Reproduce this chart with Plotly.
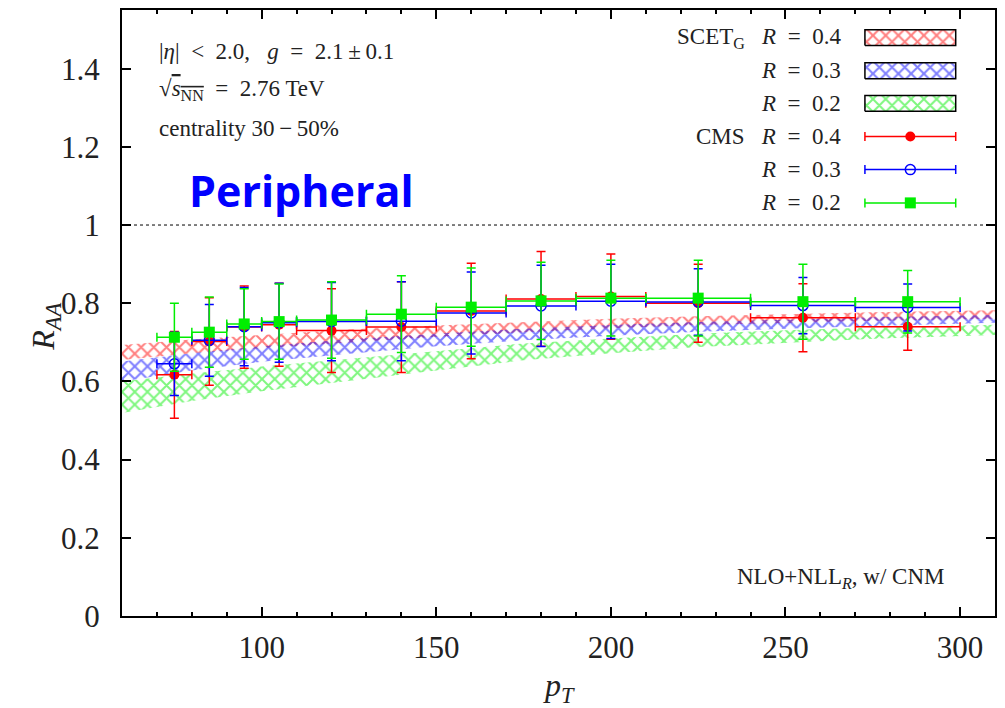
import plotly.graph_objects as go

# ---------------- data ----------------
# CMS jet R_AA, 30-50% centrality
pt = [75, 85, 95, 105, 120, 140, 160, 180, 200, 225, 255, 285]
pt_halfbin = [5, 5, 5, 5, 10, 10, 10, 10, 10, 15, 15, 15]

cms_r04 = [0.617, 0.702, 0.739, 0.745, 0.730, 0.739, 0.780, 0.811, 0.817, 0.800, 0.763, 0.740]
cms_r04_err = [0.111, 0.112, 0.105, 0.106, 0.107, 0.116, 0.122, 0.121, 0.109, 0.100, 0.087, 0.060]
cms_r03 = [0.645, 0.705, 0.740, 0.750, 0.753, 0.754, 0.775, 0.793, 0.805, 0.803, 0.794, 0.789]
cms_r03_err = [0.081, 0.092, 0.100, 0.101, 0.100, 0.101, 0.105, 0.104, 0.095, 0.085, 0.072, 0.060]
cms_r02 = [0.713, 0.726, 0.747, 0.753, 0.757, 0.772, 0.790, 0.806, 0.813, 0.813, 0.804, 0.804]
cms_r02_err = [0.087, 0.090, 0.090, 0.096, 0.098, 0.098, 0.100, 0.099, 0.097, 0.097, 0.096, 0.080]

# SCET_G theory bands
band_pt = [60, 80, 100, 125, 150, 175, 200, 225, 250, 275, 310]
scet_r04_lo = [0.655, 0.672, 0.685, 0.700, 0.714, 0.726, 0.736, 0.744, 0.750, 0.755, 0.760]
scet_r04_hi = [0.693, 0.707, 0.719, 0.733, 0.743, 0.752, 0.760, 0.767, 0.772, 0.777, 0.782]
scet_r03_lo = [0.600, 0.628, 0.650, 0.671, 0.690, 0.705, 0.717, 0.727, 0.735, 0.742, 0.750]
scet_r03_hi = [0.651, 0.672, 0.690, 0.708, 0.722, 0.735, 0.744, 0.752, 0.758, 0.764, 0.770]
scet_r02_lo = [0.519, 0.550, 0.575, 0.601, 0.628, 0.654, 0.672, 0.688, 0.699, 0.709, 0.719]
scet_r02_hi = [0.600, 0.620, 0.638, 0.658, 0.678, 0.697, 0.710, 0.722, 0.731, 0.738, 0.745]

radii = ["0.4", "0.3", "0.2"]
x_ticks = [100, 150, 200, 250, 300]
y_ticks = [0, 0.2, 0.4, 0.6, 0.8, 1.0, 1.2, 1.4]

# ---------------- styles ----------------
RED, BLUE, GREEN = "#ff0000", "#0000ff", "#00ee00"
SERIF = "Liberation Serif"
TXT = "#222222"
colors = [RED, BLUE, GREEN]
bands = [(scet_r04_lo, scet_r04_hi), (scet_r03_lo, scet_r03_hi), (scet_r02_lo, scet_r02_hi)]
cms = [(cms_r04, cms_r04_err), (cms_r03, cms_r03_err), (cms_r02, cms_r02_err)]
markers = [dict(symbol="circle", size=10),
           dict(symbol="circle-open", size=10, line=dict(width=1.5)),
           dict(symbol="square", size=11)]

def pattern(c):
    return dict(shape="x", fgcolor=c, bgcolor="rgba(255,255,255,0)", size=9, solidity=0.4)

fig = go.Figure()

for (lo, hi), c in zip(bands, colors):
    fig.add_trace(go.Scatter(
        x=band_pt + band_pt[::-1], y=hi + lo[::-1], fill="toself", mode="lines",
        line=dict(width=0, color=c), fillcolor="rgba(255,255,255,0)",
        fillpattern=pattern(c), hoverinfo="skip", showlegend=False))

for (vals, errs), c, m in zip(cms, colors, markers):
    fig.add_trace(go.Scatter(
        x=pt, y=vals, mode="markers", marker=dict(color=c, **m),
        error_y=dict(type="data", array=errs, color=c, thickness=1.5, width=4.5),
        error_x=dict(type="data", array=pt_halfbin, color=c, thickness=1.5, width=4.5),
        showlegend=False))

# ---------------- custom legend on an overlay axis (0..1 = plot area) ----------------
leg_x0, leg_x1 = 0.851, 0.955
leg_rows = [0.9545, 0.8998, 0.846, 0.7913, 0.7366, 0.6817]
leg_h = 0.0131
leg_text_x = 0.826
for i, c in enumerate(colors):
    yc = leg_rows[i]
    fig.add_trace(go.Scatter(
        x=[leg_x0, leg_x1, leg_x1, leg_x0, leg_x0],
        y=[yc - leg_h, yc - leg_h, yc + leg_h, yc + leg_h, yc - leg_h],
        xaxis="x2", yaxis="y2", mode="lines", fill="toself",
        line=dict(color="black", width=1.5), fillcolor="rgba(255,255,255,0)",
        fillpattern=pattern(c), hoverinfo="skip", showlegend=False))
for i, (c, m) in enumerate(zip(colors, markers)):
    yc = leg_rows[3 + i]
    fig.add_trace(go.Scatter(
        x=[(leg_x0 + leg_x1) / 2], y=[yc], xaxis="x2", yaxis="y2", mode="markers",
        marker=dict(color=c, **m),
        error_x=dict(type="constant", value=(leg_x1 - leg_x0) / 2, color=c, thickness=1.5, width=4.5),
        hoverinfo="skip", showlegend=False))

ann = []
EQ = "\u2002=\u2002"
leg_labels = ["SCET<sub>G</sub>\u2002 <i>R</i>" + EQ + radii[0],
              "<i>R</i>" + EQ + radii[1],
              "<i>R</i>" + EQ + radii[2],
              "CMS\u2002 <i>R</i>" + EQ + radii[0],
              "<i>R</i>" + EQ + radii[1],
              "<i>R</i>" + EQ + radii[2]]
for t, yc in zip(leg_labels, leg_rows):
    ann.append(dict(x=leg_text_x, y=yc, xref="paper", yref="paper", text=t, showarrow=False,
                    xanchor="right", yanchor="middle", font=dict(family=SERIF, size=23, color=TXT)))

info = [("|<i>η</i>|\u2002&lt;\u20022.0,\u2002 <i>g</i>" + EQ + "2.1\u2009±\u20090.1", 0.931),
        ("√<span style='text-decoration:overline'><i>s</i><sub>NN</sub></span>" + EQ + "2.76 TeV", 0.8685),
        ("centrality 30\u2009−\u200950%", 0.805)]
for t, yc in info:
    ann.append(dict(x=0.040, y=yc, xref="paper", yref="paper", text=t, showarrow=False,
                    xanchor="left", yanchor="middle", font=dict(family=SERIF, size=23, color=TXT)))

ann.append(dict(x=0.206, y=0.7025, xref="paper", yref="paper", text="<b>Peripheral</b>",
                showarrow=False, xanchor="center", yanchor="middle",
                font=dict(family="Open Sans", size=43, color="#0000ff")))
ann.append(dict(x=0.944, y=0.063, xref="paper", yref="paper",
                text="NLO+NLL<sub><i>R</i></sub>, w/ CNM", showarrow=False,
                xanchor="right", yanchor="middle", font=dict(family=SERIF, size=23, color=TXT)))
ann.append(dict(x=-0.0877, y=0.478, xref="paper", yref="paper",
                text="<i>R</i><sub><i>AA</i></sub>", textangle=-90, showarrow=False,
                xanchor="center", yanchor="middle", font=dict(family=SERIF, size=32, color=TXT)))
ann.append(dict(x=0.501, y=-0.1175, xref="paper", yref="paper",
                text="<i>p</i><sub><i>T</i></sub>", showarrow=False,
                xanchor="center", yanchor="middle", font=dict(family=SERIF, size=32, color=TXT)))

fig.add_shape(type="line", xref="x domain", x0=0, x1=1, yref="y", y0=1, y1=1,
              line=dict(color="black", width=1, dash="dot"), layer="below")

axis_common = dict(showline=True, linecolor="black", linewidth=2, mirror="allticks",
                   ticks="inside", ticklen=9, tickwidth=1.5, tickcolor="black",
                   showgrid=False, zeroline=False,
                   tickfont=dict(family=SERIF, size=31, color=TXT))

fig.update_layout(
    width=1005, height=708,
    margin=dict(l=122, r=8, t=8, b=92),
    paper_bgcolor="white", plot_bgcolor="rgba(0,0,0,0)",
    showlegend=False,
    xaxis=dict(range=[60, 310], tickvals=x_ticks, ticklabelstandoff=3,
               minor=dict(dtick=10, tick0=0, ticks="inside", ticklen=4, tickwidth=1.5, tickcolor="black"),
               **axis_common),
    yaxis=dict(range=[0, 1.55], tickvals=y_ticks, ticktext=[f"{v:g}" for v in y_ticks],
               ticklabelstandoff=14, **axis_common),
    xaxis2=dict(overlaying="x", range=[0, 1], visible=False),
    yaxis2=dict(overlaying="y", range=[0, 1], visible=False),
    annotations=ann,
)

fig.write_html("out.html")
